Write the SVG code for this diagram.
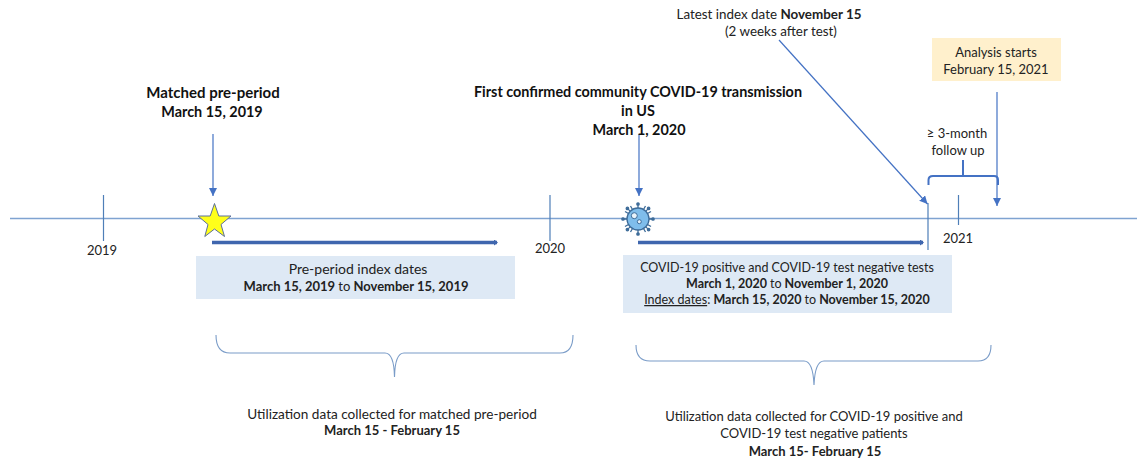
<svg xmlns="http://www.w3.org/2000/svg" width="1137" height="459" viewBox="0 0 1137 459">
<style>
text{font-family:Lato,"Liberation Sans",sans-serif;font-size:13px;fill:#222;text-anchor:middle}
.b{font-weight:700}
.h{font-size:14.400px;font-weight:700;fill:#111}
.s{font-size:12.500px}
.ax{stroke:#7FA3D1;stroke-width:1.3;fill:none}
.tick{stroke:#4F7FB8;stroke-width:1.2;fill:none}
.ar{stroke:#4472C4;stroke-width:1.2;fill:none;marker-end:url(#ah)}
.thick{stroke:#3F66AE;stroke-width:3.5;fill:none;marker-end:url(#sm)}
.br{stroke:#7A9CC8;stroke-width:1.1;fill:none}
.br2{stroke:#4472C4;stroke-width:2;fill:none}
.box{fill:#DEE9F5}
</style>
<defs>
<marker id="ah" markerUnits="userSpaceOnUse" markerWidth="10" markerHeight="10" refX="8" refY="4" orient="auto"><path d="M0 0L8 4L0 8Z" fill="#4472C4"/></marker>
<marker id="sm" markerUnits="userSpaceOnUse" markerWidth="6" markerHeight="8" refX="3" refY="3" orient="auto"><path d="M0 0L4 3L0 6Z" fill="#3F66AE"/></marker>
</defs>
<g id="connectors">
<path class="ax" d="M10 218.500H1137"/>
<path class="tick" d="M103.500 195V241M550 195V241M958.500 195V225M928 203V250"/>
<path class="ar" d="M213 134V196"/>
<path class="ar" d="M639 134V196"/>
<path class="ar" d="M779 40L927.500 204"/>
<path class="ar" d="M997 92V206"/>
<path class="thick" d="M212 242.500H497"/>
<path class="thick" d="M638 242.500H923"/>
<path class="br2" d="M928.500 185V180Q928.500 176 933 176H994Q998 176 998 180V185M963 176V160"/>
<path class="br" d="M216 335Q216 353 230 353H385Q394 353 394.500 377Q395 353 404 353H560Q573 353 573 335"/>
<path class="br" d="M636 345Q636 361 650 361H804Q813 361 814 385Q815 361 824 361H978Q991 361 991 345"/>
</g>
<g id="star"><path d="M214.500 203.500L218.800 216H231L221 224.500L224.500 236.500L214.500 229L204.800 236.500L208 224.500L198 216H210.200Z" fill="#FFFF1A" stroke="#5B6E9C" stroke-width="1"/></g>
<g id="virus">
<g stroke="#3E6C99" stroke-width="1.300" fill="#3E6C99">
<path d="M638 204V234M623 219H653M627.400 208.400L648.600 229.600M648.600 208.400L627.400 229.600" fill="none"/>
<path d="M630.500 206L645.500 232M645.500 206L630.500 232M625 211.500L651 226.500M651 211.500L625 226.500" fill="none"/>
<circle cx="638" cy="204" r="1.200"/><circle cx="638" cy="234" r="1.200"/><circle cx="623" cy="219" r="1.200"/><circle cx="653" cy="219" r="1.200"/>
<circle cx="627.400" cy="208.400" r="1.200"/><circle cx="648.600" cy="229.600" r="1.200"/><circle cx="648.600" cy="208.400" r="1.200"/><circle cx="627.400" cy="229.600" r="1.200"/>
</g>
<circle cx="638" cy="219" r="11" fill="#7FBDEB" stroke="#3E6C99" stroke-width="1.300"/>
<circle cx="634.300" cy="215.700" r="3" fill="#E8F3FB" stroke="#3E6C99"/>
<circle cx="639.300" cy="221.700" r="2" fill="#E8F3FB" stroke="#3E6C99"/>
</g>
<g id="year-2019"><text x="102" y="255">2019</text></g>
<g id="year-2020"><text x="550" y="253">2020</text></g>
<g id="year-2021"><text x="958" y="243">2021</text></g>
<g id="matched"><text class="h" x="213" y="98" style="font-size:15px">Matched pre-period</text><text class="h" x="212" y="117">March 15, 2019</text></g>
<g id="first-confirmed"><text class="h" x="638" y="97">First confirmed community COVID-19 transmission</text><text class="h" x="638" y="116">in US</text><text class="h" x="639" y="135">March 1, 2020</text></g>
<g id="latest"><text x="769" y="19" style="font-size:13.400px">Latest index date <tspan class="b">November 15</tspan></text><text x="781" y="36" style="font-size:13.400px">(2 weeks after test)</text></g>
<g id="analysis"><rect x="932" y="38" width="129" height="43" fill="#FFF0CC"/><text x="996" y="57">Analysis starts</text><text x="996" y="74">February 15, 2021</text></g>
<g id="followup"><text x="957" y="138">≥ 3-month</text><text x="958" y="155">follow up</text></g>
<g id="pre-index"><rect class="box" x="196" y="256" width="319" height="43"/><text x="358" y="274" style="font-size:14px">Pre-period index dates</text><text x="356" y="291"><tspan class="b">March 15,  2019 </tspan>to<tspan class="b"> November 15, 2019</tspan></text></g>
<g id="covid-index"><rect class="box" x="623" y="255" width="329" height="58"/><text class="s" x="787" y="272">COVID-19 positive and COVID-19  test negative tests</text><text class="s" x="787" y="288"><tspan class="b">March 1, 2020 </tspan>to<tspan class="b"> November 1, 2020</tspan></text><text class="s" x="787" y="304"><tspan text-decoration="underline">Index dates</tspan>: <tspan class="b">March 15, 2020 </tspan>to<tspan class="b"> November 15, 2020</tspan></text></g>
<g id="util-pre"><text x="392" y="419" style="font-size:13.600px">Utilization data collected for matched pre-period</text><text class="b" x="392" y="435">March 15 - February 15</text></g>
<g id="util-covid"><text x="814" y="421">Utilization data collected for COVID-19 positive and</text><text x="814" y="438">COVID-19 test negative patients</text><text class="b" x="815" y="456">March 15- February 15</text></g>
</svg>
